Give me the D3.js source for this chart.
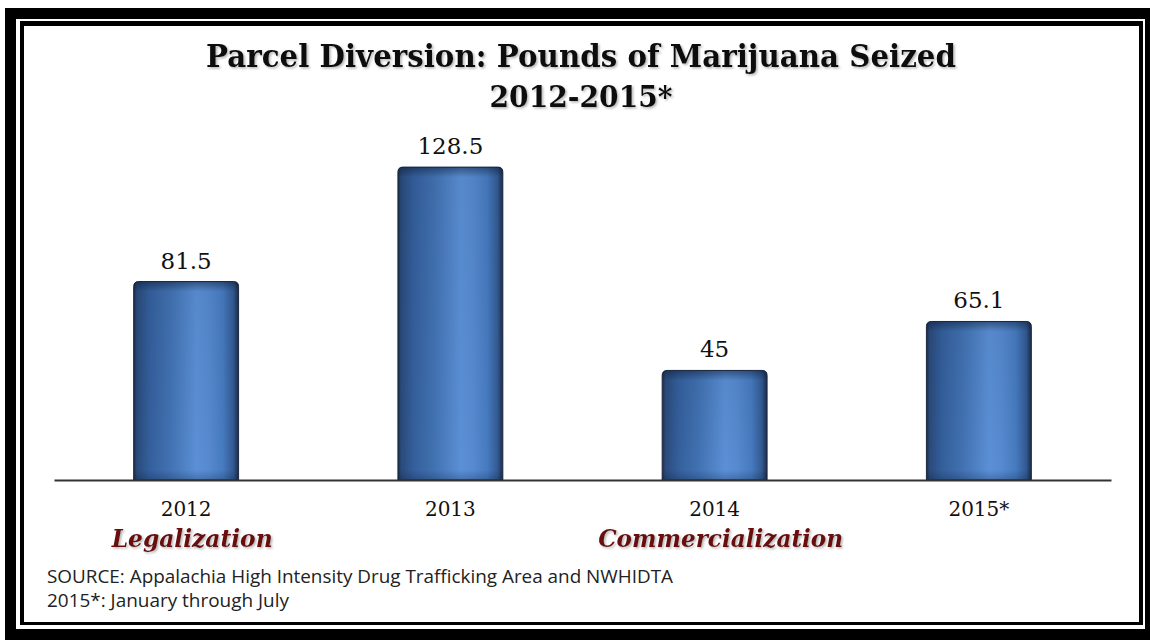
<!DOCTYPE html>
<html>
<head>
<meta charset="utf-8">
<script src="https://cdn.jsdelivr.net/npm/d3@7"></script>
<style>
  html, body { margin: 0; padding: 0; background: #fff; }
  svg { display: block; }
</style>
</head>
<body>
<svg id="chart" width="1150" height="640"></svg>
<script>
// ---- data ----
const categories = ["2012", "2013", "2014", "2015*"];
const values = [81.5, 128.5, 45, 65.1];
const valueLabels = ["81.5", "128.5", "45", "65.1"];
const subLabels = ["Legalization", "", "Commercialization", ""];
const titleLines = ["Parcel Diversion: Pounds of Marijuana Seized", "2012-2015*"];
const notes = ["SOURCE: Appalachia High Intensity Drug Trafficking Area and NWHIDTA", "2015*: January through July"];

const svg = d3.select("#chart");
const W = 1150, H = 640;

// ---- frame ----
svg.append("rect").attr("x", 5).attr("y", 8).attr("width", W - 5).attr("height", H - 8).attr("fill", "#000");
svg.append("rect").attr("x", 16).attr("y", 19).attr("width", 1129).attr("height", 610).attr("fill", "#fff");
svg.append("rect").attr("x", 20).attr("y", 21).attr("width", 1123).attr("height", 604).attr("fill", "#000");
svg.append("rect").attr("x", 24).attr("y", 26).attr("width", 1115).attr("height", 596).attr("fill", "#fff");

const defs = svg.append("defs");
const shadow = defs.append("filter").attr("id", "tshadow").attr("x", "-5%").attr("y", "-20%").attr("width", "110%").attr("height", "150%");
shadow.append("feDropShadow").attr("dx", 1.5).attr("dy", 1.5).attr("stdDeviation", 0.9)
  .attr("flood-color", "#777").attr("flood-opacity", 0.55);

const hg = defs.append("linearGradient").attr("id", "barH").attr("x1", "0").attr("x2", "1").attr("y1", "0").attr("y2", "0");
[[0, "#1c2c48"], [0.03, "#2a4a7a"], [0.15, "#345f9c"], [0.35, "#4272b2"], [0.6, "#5b90d6"], [0.72, "#5689cf"],
 [0.85, "#467bbf"], [0.95, "#335a93"], [1, "#1c2c48"]]
  .forEach(([o, c]) => hg.append("stop").attr("offset", o).attr("stop-color", c));

// ---- scales ----
const x = d3.scaleBand().domain(categories).range([54, 1111]).paddingInner(0.603).paddingOuter(0.3015);
const y = d3.scaleLinear().domain([0, 140]).range([480, 139.1]);

// ---- title ----
const title = svg.append("g").attr("filter", "url(#tshadow)");
title.append("text").attr("x", 581).attr("y", 67).attr("text-anchor", "middle")
  .attr("font-family", "DejaVu Serif").attr("font-weight", "bold").attr("font-size", 31)
  .attr("textLength", 750).attr("lengthAdjust", "spacingAndGlyphs").attr("fill", "#0a0a0a")
  .text(titleLines[0]);
title.append("text").attr("x", 581).attr("y", 107).attr("text-anchor", "middle")
  .attr("font-family", "DejaVu Serif").attr("font-weight", "bold").attr("font-size", 30)
  .attr("textLength", 183).attr("lengthAdjust", "spacingAndGlyphs").attr("fill", "#0a0a0a")
  .text(titleLines[1]);

// ---- bars ----
const r = 5;
function barPath(x0, w, yTop, yBot) {
  return `M${x0},${yBot} L${x0},${yTop + r} Q${x0},${yTop} ${x0 + r},${yTop} L${x0 + w - r},${yTop} Q${x0 + w},${yTop} ${x0 + w},${yTop + r} L${x0 + w},${yBot} Z`;
}
const bars = svg.append("g");
categories.forEach((c, i) => {
  const x0 = x(c), w = x.bandwidth(), yTop = y(values[i]), yBot = y(0);
  const vg = defs.append("linearGradient").attr("id", "barV" + i).attr("gradientUnits", "userSpaceOnUse")
    .attr("x1", 0).attr("x2", 0).attr("y1", yTop).attr("y2", yBot);
  vg.append("stop").attr("offset", 0).attr("stop-color", "#0b1830").attr("stop-opacity", 0.5);
  vg.append("stop").attr("offset", Math.min(0.5, 10 / (yBot - yTop))).attr("stop-color", "#0b1830").attr("stop-opacity", 0.06);
  vg.append("stop").attr("offset", Math.max(0.5, 1 - 10 / (yBot - yTop))).attr("stop-color", "#0b1830").attr("stop-opacity", 0.0);
  vg.append("stop").attr("offset", 1).attr("stop-color", "#0b1830").attr("stop-opacity", 0.25);
  bars.append("path").attr("d", barPath(x0, w, yTop, yBot)).attr("fill", "url(#barH)")
    .attr("stroke", "#1d2a40").attr("stroke-width", 1);
  bars.append("path").attr("d", barPath(x0, w, yTop, yBot)).attr("fill", `url(#barV${i})`);
});

// ---- value labels ----
svg.append("g").selectAll("text").data(categories).join("text")
  .attr("x", c => x(c) + x.bandwidth() / 2)
  .attr("y", (c, i) => y(values[i]) - 13)
  .attr("text-anchor", "middle")
  .attr("font-family", "DejaVu Serif").attr("font-size", 23).attr("fill", "#111")
  .text((c, i) => valueLabels[i]);

// ---- axis ----
const axis = svg.append("g").attr("transform", `translate(0,${y(0)})`)
  .call(d3.axisBottom(x).tickSize(0).tickPadding(22).tickSizeOuter(0));
axis.select(".domain").attr("stroke", "#333").attr("stroke-width", 2.2);
axis.selectAll(".tick text").attr("font-family", "DejaVu Serif").attr("font-size", 20).attr("fill", "#111");

// ---- sublabels ----
svg.append("g").attr("filter", "url(#tshadow)").selectAll("text").data(categories.filter((c, i) => subLabels[i]))
  .join("text")
  .attr("x", c => x(c) + x.bandwidth() / 2 + 6)
  .attr("y", 547)
  .attr("text-anchor", "middle")
  .attr("font-family", "DejaVu Serif").attr("font-weight", "bold").attr("font-style", "italic").attr("font-size", 24)
  .attr("fill", "#6a0b0e")
  .attr("textLength", c => subLabels[categories.indexOf(c)] === "Legalization" ? 161 : 245)
  .attr("lengthAdjust", "spacingAndGlyphs")
  .text(c => subLabels[categories.indexOf(c)]);

// ---- notes ----
svg.append("g").selectAll("text").data(notes).join("text")
  .attr("x", 47).attr("y", (d, i) => 583 + i * 24)
  .attr("font-family", "Open Sans").attr("font-size", 17.5).attr("fill", "#222")
  .attr("textLength", (d, i) => i === 0 ? 626 : 242).attr("lengthAdjust", "spacingAndGlyphs")
  .text(d => d);
</script>
</body>
</html>
